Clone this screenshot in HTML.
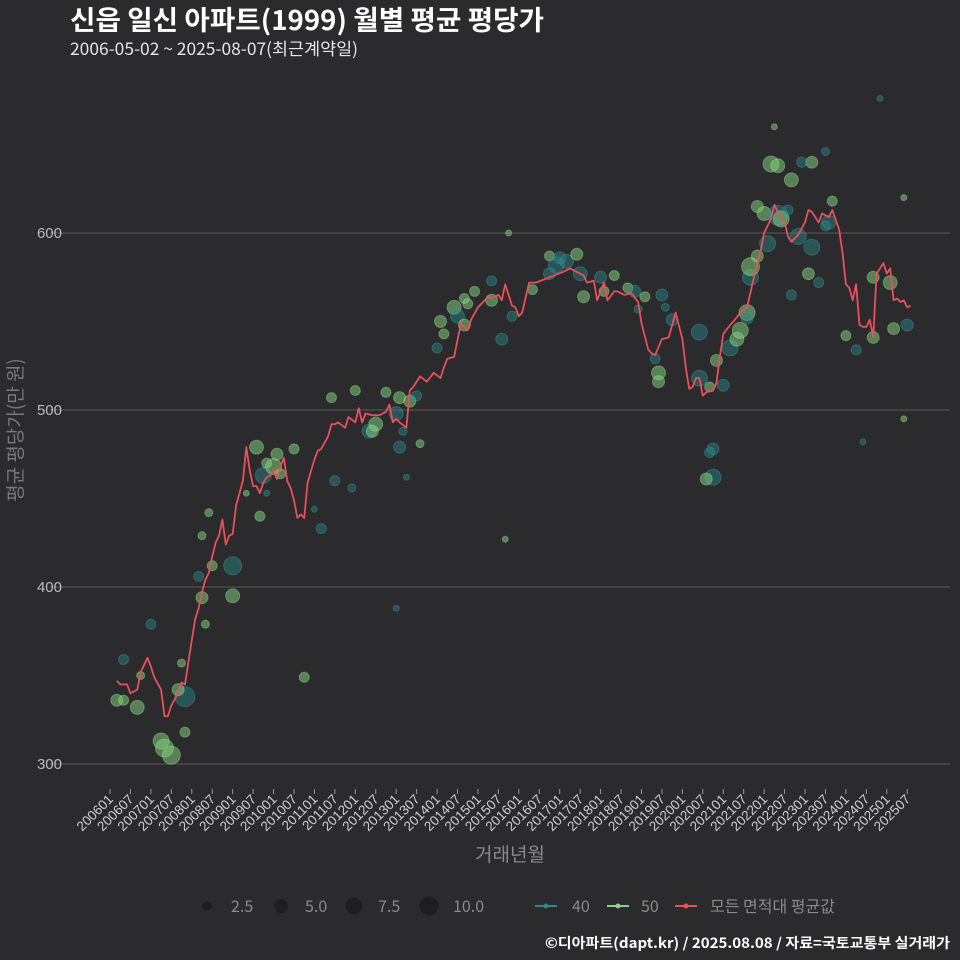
<!DOCTYPE html>
<html><head><meta charset="utf-8"><style>
html,body{margin:0;padding:0;background:#2b2a2c;}
svg{display:block;font-family:"Liberation Sans","Noto Sans CJK KR",sans-serif;}
</style></head><body>
<svg id="chart" width="960" height="960" viewBox="0 0 960 960">
<rect x="0" y="0" width="960" height="960" fill="#2b2a2c"/>
<text x="70" y="30" fill="#ffffff" font-size="27" font-weight="bold" textLength="474" lengthAdjust="spacingAndGlyphs" font-family="'Noto Sans CJK KR',sans-serif">신읍 일신 아파트(1999) 월별 평균 평당가</text>
<text x="70" y="55" fill="#e6e6e6" font-size="17" textLength="288" lengthAdjust="spacingAndGlyphs" font-family="'Noto Sans CJK KR',sans-serif">2006-05-02 ~ 2025-08-07(최근계약일)</text>
<g id="grid"></g>
<g id="yaxis"></g>
<g id="xaxis"></g>
<g id="bubbles"></g>
<g id="line"></g>
<text transform="translate(22,430) rotate(-90)" text-anchor="middle" fill="#7a7a7a" font-size="19" font-family="'Noto Sans CJK KR',sans-serif">평균 평당가(만 원)</text>
<text x="510" y="861" text-anchor="middle" fill="#8a8a8a" font-size="19" font-family="'Noto Sans CJK KR',sans-serif">거래년월</text>
<g font-size="16" fill="#8a8a8a" font-family="'Noto Sans CJK KR',sans-serif">
 <g><circle cx="207" cy="906" r="4.7" fill="#1e1e1f"/><text x="231" y="912">2.5</text></g>
 <g><circle cx="281" cy="906" r="6.7" fill="#1e1e1f"/><text x="305" y="912">5.0</text></g>
 <g><circle cx="354" cy="906" r="8.2" fill="#1e1e1f"/><text x="378" y="912">7.5</text></g>
 <g><circle cx="429" cy="906" r="9.5" fill="#1e1e1f"/><text x="453" y="912">10.0</text></g>
 <g><line x1="535" y1="906" x2="557" y2="906" stroke="#2a8a8c" stroke-width="2"/><circle cx="546" cy="906" r="2.5" fill="#2a8a8c"/><text x="572" y="912">40</text></g>
 <g><line x1="607" y1="906" x2="629" y2="906" stroke="#86d77f" stroke-width="2"/><circle cx="618" cy="906" r="2.5" fill="#86d77f"/><text x="641" y="912">50</text></g>
 <g><line x1="675" y1="906" x2="697" y2="906" stroke="#e8505b" stroke-width="2"/><circle cx="686" cy="906" r="2.5" fill="#e8505b"/><text x="710" y="912">모든 면적대 평균값</text></g>
</g>
<text x="950" y="948" text-anchor="end" fill="#ffffff" font-size="14" font-weight="bold" textLength="405" lengthAdjust="spacingAndGlyphs" font-family="'Noto Sans CJK KR',sans-serif">©디아파트(dapt.kr) / 2025.08.08 / 자료=국토교통부 실거래가</text>
</svg>
<script>
const yTicks = [300, 400, 500, 600];
const lineMonths = ["200603","200604","200606","200607","200609","200610","200612","200701","200702","200704","200705","200706","200707","200709","200710","200711","200801","200802","200803","200804","200805","200806","200807","200808","200809","200810","200811","200812","200901","200902","200904","200905","200906","200907","200908","200909","200910","200911","200912","201001","201002","201003","201004","201005","201006","201007","201008","201009","201010","201011","201101","201102","201103","201105","201106","201107","201108","201110","201111","201201","201202","201203","201204","201206","201208","201210","201211","201212","201301","201302","201304","201305","201306","201308","201310","201312","201402","201403","201404","201406","201408","201410","201411","201501","201504","201505","201507","201508","201509","201511","201512","201601","201602","201604","201606","201610","201702","201704","201706","201708","201709","201711","201712","201802","201803","201805","201806","201808","201810","201812","201901","201903","201904","201905","201907","201909","201911","202001","202002","202003","202004","202005","202006","202007","202008","202010","202011","202012","202101","202103","202104","202106","202108","202110","202111","202112","202201","202203","202204","202205","202206","202207","202208","202209","202211","202301","202302","202303","202305","202306","202307","202308","202309","202311","202312","202401","202402","202403","202404","202405","202406","202407","202408","202409","202410","202412","202501","202502","202503","202504","202505","202506","202507","202508"];
const lineValues = [347,345,345,340,342,352,360,355,349,342,327,327,333,340,346,345,370,382,388,397,404,408,417,425,429,438,424,429,430,446,460,479,466,457,457,453,459,462,463,466,461,468,473,460,456,449,439,441,439,459,472,477,478,485,492,492,493,490,496,493,501,493,498,497,497,499,503,493,495,493,490,511,513,519,516,521,518,524,529,530,549,545,551,558,564,563,565,562,571,559,558,553,555,572,572,575,578,580,578,576,572,573,562,572,562,567,567,565,566,561,549,534,532,531,540,541,555,540,524,512,513,518,518,508,510,511,515,530,543,548,550,555,558,575,583,590,600,608,616,612,608,606,598,595,599,606,613,612,606,611,610,609,613,602,589,571,569,562,571,548,547,547,551,541,577,583,577,580,562,563,561,562,558,559,555];
const bubbleMonths = ["200605","200603","200605","200609","200610","200701","200704","200705","200707","200711","200709","200710","200711","200803","200804","200805","200804","200806","200901","200901","200807","200905","200908","200909","200910","200911","201001","201002","201003","200911","201007","201010","201103","201101","201106","201107","201112","201201","201205","201207","201206","201301","201302","201305","201210","201303","201302","201304","201308","201307","201402","201403","201401","201406","201407","201409","201409","201410","201412","201505","201505","201508","201510","201511","201605","201610","201610","201612","201701","201703","201706","201707","201708","201801","201802","201805","201809","201811","201902","201905","201812","201906","201906","201908","201907","201910","202006","202006","202009","202010","202008","202011","202101","202103","202105","202106","202108","202108","202109","202109","202111","202111","202201","202202","202203","202205","202205","202206","202208","202209","202211","202303","202303","202305","202307","202308","202309","202302","202209","202401","202404","202409","202409","202502","202503","202507","202411","202204","202506","202406","202506","201509","201301","202010","202009","202212","202307"];
const bubbleValues = [359,336,336,332,350,379,313,309,305,338,342,357,318,406,394,379,429,442,412,395,412,453,479,440,463,470,468,475,464,453,478,349,433,444,507,460,456,511,488,492,488,498,507,505,510,488,479,462,481,508,550,543,535,558,553,563,548,560,567,562,573,540,600,553,568,577,587,582,586,584,588,577,564,575,567,576,569,567,564,529,557,521,516,558,565,551,544,518,513,462,461,528,514,535,540,545,555,552,575,581,587,615,611,594,639,638,610,608,613,630,598,640,592,572,604,606,618,577,565,542,534,541,575,572,546,548,676,660,620,482,495,427,388,478,476,640,646];
const bubbleCounts = [2.8,4,2.8,5.4,1.8,2.8,7.1,9,9,11.1,4,1.8,2.8,2.8,4,1.8,1.8,1.8,9,5.4,2.8,1,5.4,2.8,7.1,2.8,7.1,4,2.8,1,2.8,2.8,2.8,1,2.8,2.8,1.8,2.8,5.4,5.4,4,5.4,4,4,2.8,1.8,4,1,1.8,2.8,4,2.8,2.8,5.4,5.4,2.8,4,2.8,2.8,4,2.8,4,1,2.8,2.8,4,2.8,7.1,4,5.4,4,5.4,4,4,2.8,2.8,2.8,4,2.8,2.8,1.8,5.4,4,1.8,4,4,7.1,7.1,2.8,7.1,4,4,4,7.1,5.4,7.1,7.1,4,7.1,9,4,4,5.4,7.1,7.1,5.4,11.1,7.1,2.8,5.4,7.1,4,7.1,2.8,2.8,5.4,2.8,4,2.8,2.8,2.8,4,4,5.4,4,4,1,1,1,1,1,1,1,4,2.8,2.8,1.8];
const bubbleTypes = ["t","g","g","g","g","t","g","g","g","t","g","g","g","t","g","g","g","g","t","g","g","g","g","g","t","g","g","g","g","t","g","g","t","t","g","t","t","g","t","g","g","t","g","g","g","t","t","t","g","t","g","g","t","g","t","g","g","g","g","g","t","t","g","t","g","t","g","t","t","t","g","t","g","t","g","g","g","t","g","t","t","g","g","t","t","t","t","t","g","t","g","g","t","t","g","g","g","t","t","g","g","g","g","t","g","g","t","g","t","g","t","g","t","t","t","t","g","g","t","g","t","g","g","g","g","t","t","g","g","t","g","g","t","t","t","t","t"];
const xTickLabels = [];
for (let y = 2006; y <= 2025; y++) { xTickLabels.push(y + "01"); xTickLabels.push(y + "07"); }

const NS = "http://www.w3.org/2000/svg";
const X0 = 110, PX_PER_MONTH = 3.407;
function monthIndex(s){ return (parseInt(s.slice(0,4)) - 2006) * 12 + parseInt(s.slice(4,6)) - 1; }
function xScale(s){ return X0 + monthIndex(s) * PX_PER_MONTH; }
function yScale(v){ return 764 - (v - 300) * 1.77; }
function mk(tag, attrs, parent){ const e = document.createElementNS(NS, tag); for (const k in attrs) e.setAttribute(k, attrs[k]); parent.appendChild(e); return e; }

const grid = document.getElementById("grid"), yaxis = document.getElementById("yaxis"), xaxis = document.getElementById("xaxis");
yTicks.forEach(v => {
  const l = mk("line", {x1: 50, x2: 950, y1: yScale(v), y2: yScale(v), stroke: "#5c5c5c", "stroke-width": 1}, grid);
  
  
  const t = mk("text", {x: 62, y: yScale(v) + 5, "text-anchor": "end", fill: "#bdbdbd", "font-size": 15}, yaxis);
  t.textContent = v;
  
  
});
xTickLabels.forEach(s => {
  const x = xScale(s);
  const tk = mk("line", {x1: x, x2: x, y1: 789, y2: 794, stroke: "#9a9a9a", "stroke-width": 1}, xaxis);
  
  
  const t = mk("text", {transform: "translate(" + (x + 4) + ",800) rotate(-45)", "text-anchor": "end", fill: "#cfcfcf", "font-size": 13.5}, xaxis);
  t.textContent = s;
  
  
});

const bg = document.getElementById("bubbles");
bubbleMonths.forEach((m, i) => {
  const teal = bubbleTypes[i] === "t";
  const c = mk("circle", {cx: xScale(m), cy: yScale(bubbleValues[i]), r: 3 * Math.sqrt(bubbleCounts[i]),
    fill: teal ? "#2a8a8c" : "#86d77f", "fill-opacity": teal ? 0.45 : 0.5,
    stroke: teal ? "#3aa0a0" : "#a3e39b", "stroke-opacity": 0.4, "stroke-width": 1}, bg);
  
  
});

const lg = document.getElementById("line");
const d = lineMonths.map((m, i) => (i ? "L" : "M") + xScale(m).toFixed(1) + "," + yScale(lineValues[i]).toFixed(1)).join(" ");
const p = mk("path", {d: d, fill: "none", stroke: "#e8505b", "stroke-width": 1.8, "stroke-linejoin": "round"}, lg);


</script>
</body></html>
